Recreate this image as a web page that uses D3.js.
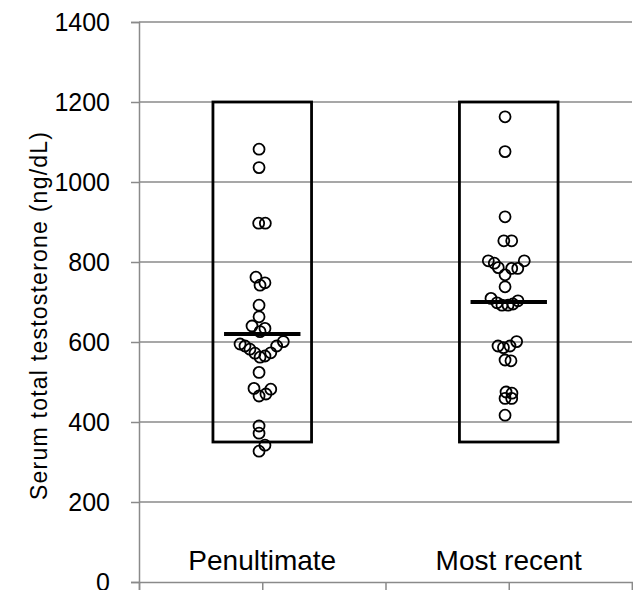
<!DOCTYPE html>
<html><head><meta charset="utf-8">
<script src="https://cdn.jsdelivr.net/npm/d3@7"></script>
<style>body{margin:0;background:#fff}svg{display:block}text{font-family:"Liberation Sans",Arial,sans-serif;fill:#000}</style>
</head><body><svg id="c" width="633" height="590"></svg>
<script>
const categories = ["Penultimate", "Most recent"];
const categoryX = [1, 3];
const rangeLow = [350, 350];
const rangeHigh = [1200, 1200];
const medians = [620, 700];
const yTicks = [0, 200, 400, 600, 800, 1000, 1200, 1400];
const yLabel = "Serum total testosterone (ng/dL)";

// Penultimate: x position (axis units) and value
const penX = [0.974,0.974,0.971,1.025,0.949,1.022,0.982,0.974,0.974,0.917,1.022,0.982,0.82,0.86,0.90,0.941,0.982,1.022,1.069,1.117,1.171,0.974,0.933,0.974,1.03,1.069,0.974,0.974,1.022,0.974];
const penY = [1082,1036,897,897,762,748,742,692,663,640,634,626,595,590,582,572,562,565,573,590,601,524,484,465,470,482,390,372,342,327];
// Most recent
const recX = [2.97,2.97,2.97,2.96,3.024,2.834,2.883,2.915,2.97,3.024,3.073,3.126,2.97,2.856,2.905,2.945,2.994,3.034,3.075,2.913,2.957,3.01,3.064,2.97,3.018,2.978,3.026,2.97,3.024,2.97];
const recY = [1163,1076,913,853,853,803,797,786,768,784,784,803,738,709,698,692,692,695,703,590,586,590,601,555,553,475,472,459,459,417];

const svg = d3.select("#c");
const x = d3.scaleLinear().domain([0, 4]).range([139, 632]);
const y = d3.scaleLinear().domain([0, 1400]).range([582, 22]);
const grey = "#8a8a8a";

// gridlines
svg.append("g").selectAll("line").data(yTicks.filter(d => d > 0)).join("line")
  .attr("x1", x(0)).attr("x2", x(4)).attr("y1", d => y(d)).attr("y2", d => y(d))
  .attr("stroke", grey).attr("stroke-width", 1.5);

// y axis
const ya = svg.append("g").attr("transform", `translate(${x(0)},0)`)
  .call(d3.axisLeft(y).tickValues(yTicks).tickSize(8).tickPadding(21).tickFormat(d3.format("d")));
ya.select(".domain").attr("stroke", grey).attr("stroke-width", 1.5);
ya.selectAll(".tick line").attr("stroke", grey).attr("stroke-width", 1.5);
ya.selectAll("text").attr("font-size", 25).style("font-family", '"Liberation Sans",Arial,sans-serif');

// x axis
const xa = svg.append("g").attr("transform", `translate(0,${y(0)})`)
  .call(d3.axisBottom(x).tickValues([0,1,2,3,4]).tickSize(8).tickFormat(""));
xa.select(".domain").attr("stroke", grey).attr("stroke-width", 1.5);
xa.selectAll(".tick line").attr("stroke", grey).attr("stroke-width", 1.5);

// range boxes
const bw = 0.8;
svg.append("g").selectAll("rect").data(categories).join("rect")
  .attr("x", (d,i) => x(categoryX[i] - bw/2)).attr("width", (d,i) => x(categoryX[i] + bw/2) - x(categoryX[i] - bw/2))
  .attr("y", (d,i) => y(rangeHigh[i])).attr("height", (d,i) => y(rangeLow[i]) - y(rangeHigh[i]))
  .attr("fill", "none").attr("stroke", "#000").attr("stroke-width", 2.8);

// points
const pts = penX.map((d,i) => [d, penY[i]]).concat(recX.map((d,i) => [d, recY[i]]));
svg.append("g").selectAll("circle").data(pts).join("circle")
  .attr("cx", d => x(d[0])).attr("cy", d => y(d[1])).attr("r", 5.5)
  .attr("fill", "none").attr("stroke", "#000").attr("stroke-width", 1.8);

// medians
const mw = 0.31;
svg.append("g").selectAll("line").data(medians).join("line")
  .attr("x1", (d,i) => x(categoryX[i] - mw)).attr("x2", (d,i) => x(categoryX[i] + mw))
  .attr("y1", d => y(d)).attr("y2", d => y(d))
  .attr("stroke", "#000").attr("stroke-width", 4);

// category labels
svg.append("g").selectAll("text").data(categories).join("text")
  .attr("x", (d,i) => x(categoryX[i])).attr("y", y(0) - 12)
  .attr("text-anchor", "middle").attr("font-size", 28).text(d => d);

// y label
svg.append("text").attr("transform", `translate(47,${y(665)}) rotate(-90)`)
  .attr("text-anchor", "middle").attr("font-size", 23)
  .attr("textLength", 368).attr("lengthAdjust", "spacing").text(yLabel);
</script></body></html>
